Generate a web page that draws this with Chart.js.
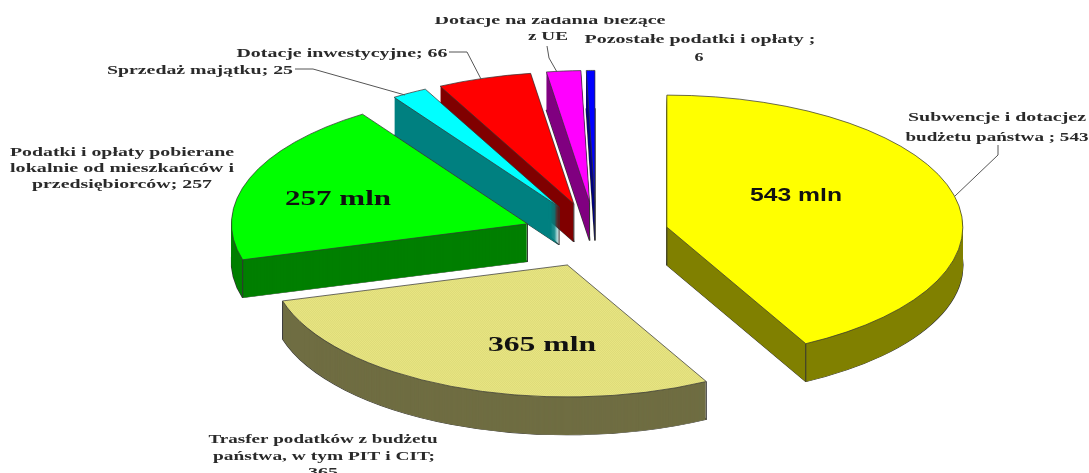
<!DOCTYPE html>
<html>
<head>
<meta charset="utf-8">
<script src="https://cdn.jsdelivr.net/npm/chart.js@4"></script>
<style>
  html, body { margin: 0; padding: 0; background: #fff; }
  canvas { display: block; filter: blur(0.4px); }
</style>
</head>
<body>
<canvas id="pie3d" width="1089" height="473"></canvas>
<script>
const categories = [
    'Subwencje i dotacje z budżetu państwa',
    'Trasfer podatków z budżetu państwa, w tym PIT i CIT',
    'Podatki i opłaty pobierane lokalnie od mieszkańców i przedsiębiorców',
    'Sprzedaż majątku',
    'Dotacje inwestycyjne',
    'Dotacje na zadania bieżące z UE',
    'Pozostałe podatki i opłaty'
];
const values = [543, 365, 257, 25, 66, 24, 6];
const topColors = ['#ffff00', '#e6e47e', '#00ff00', '#00ffff', '#ff0000', '#ff00ff', '#0000ff'];
const sideColors = ['#808000', '#6f6d42', '#007f00', '#008080', '#800000', '#800080', '#000080'];
const sliceTitles = ['543 mln', '365 mln', '257 mln'];

const SQUASH = 0.446;
const DEPTH = 38;
const EXPLODE = 73;

// dithered fill of the cream slice, tall cells because the face gets squashed
function dither(a, b) {
    const c = document.createElement('canvas');
    c.width = 2;
    c.height = 4;
    const g = c.getContext('2d');
    g.fillStyle = a;
    g.fillRect(0, 0, 2, 4);
    g.fillStyle = b;
    g.fillRect(0, 0, 1, 2);
    g.fillRect(1, 2, 1, 2);
    return g.createPattern(c, 'repeat');
}

const pie3d = {
    id: 'pie3d',
    beforeDatasetDraw(chart, args) {
        const ctx = chart.ctx;
        const arcs = args.meta.data;
        const mid = a => (a.startAngle + a.endAngle) / 2;
        // back slices first
        const order = arcs.map((a, i) => i).sort((p, q) => Math.sin(mid(arcs[p])) - Math.sin(mid(arcs[q])));

        order.forEach(i => {
            const arc = arcs[i];
            const base = arc.options;
            const dx = Math.cos(mid(arc)) * EXPLODE;
            const dy = Math.sin(mid(arc)) * EXPLODE;
            const place = drop => {
                ctx.translate(0, drop + arc.y);
                ctx.scale(1, SQUASH);
                ctx.translate(dx, dy - arc.y);
            };

            // lower outline, the wall covers its inner half
            const edge = Object.create(base);
            edge.backgroundColor = 'rgba(0,0,0,0)';
            edge.borderWidth = 1.5;
            edge.borderColor = '#333';
            arc.options = edge;
            ctx.save();
            place(DEPTH);
            arc.draw(ctx);
            ctx.restore();

            // wall: the slice stacked downwards
            const wall = Object.create(base);
            wall.backgroundColor = sideColors[i];
            wall.borderWidth = 0;
            arc.options = wall;
            for (let d = DEPTH; d > 0; d--) {
                ctx.save();
                place(d);
                arc.draw(ctx);
                ctx.restore();
            }

            // vertical corners, rim corners only on the front half
            const vx = arc.x + dx;
            const vy = arc.y + dy * SQUASH;
            const corners = [[0, 0]];
            [arc.startAngle, arc.endAngle].forEach(a => {
                if (Math.sin(a) > 0) corners.push([Math.cos(a), Math.sin(a)]);
            });
            ctx.strokeStyle = '#333';
            ctx.lineWidth = 1;
            ctx.beginPath();
            corners.forEach(c => {
                const x = vx + c[0] * arc.outerRadius;
                const y = vy + c[1] * arc.outerRadius * SQUASH;
                ctx.moveTo(x, y);
                ctx.lineTo(x, y + DEPTH);
            });
            ctx.stroke();

            // top face
            arc.options = base;
            ctx.save();
            place(0);
            arc.draw(ctx);
            ctx.restore();
        });
        return false;
    },
    afterDraw(chart) {
        const ctx = chart.ctx;
        const line = (pts) => {
            ctx.beginPath();
            pts.forEach((p, i) => i ? ctx.lineTo(p[0], p[1]) : ctx.moveTo(p[0], p[1]));
            ctx.stroke();
        };
        const text = (str, cx, y, width, font) => {
            ctx.save();
            ctx.font = font;
            ctx.textAlign = 'center';
            ctx.textBaseline = 'alphabetic';
            ctx.translate(cx, y);
            ctx.scale(width / ctx.measureText(str).width, 1);
            ctx.fillText(str, 0, 0);
            ctx.restore();
        };
        const small = 'bold 13px "Liberation Serif"';

        ctx.save();
        ctx.filter = 'blur(0.5px)';

        // leader lines
        ctx.strokeStyle = '#555';
        ctx.lineWidth = 1;
        line([[449, 52], [467, 52], [481, 79]]);
        line([[295, 69], [313, 69], [405, 95]]);
        line([[547, 46], [549, 58], [557, 72]]);
        line([[998, 145], [998, 155], [955, 196]]);

        // callouts
        ctx.fillStyle = '#2a2a2a';
        ctx.save();
        ctx.beginPath();
        ctx.rect(0, 17, 1089, 456);
        ctx.clip();
        text('Dotacje na zadania bieżące', 550, 24, 231, small);
        ctx.restore();
        text('z UE', 548, 40, 40, small);
        text('Pozostałe podatki i opłaty ;', 700, 43, 231, small);
        text('6', 699, 61, 9, small);
        text('Dotacje inwestycyjne; ' + values[4], 342, 57, 211, small);
        text('Sprzedaż majątku; ' + values[3], 200, 74, 186, small);
        text('Podatki i opłaty pobierane', 122, 156, 224, small);
        text('lokalnie od mieszkańców i', 122, 172, 224, small);
        text('przedsiębiorców; ' + values[2], 122, 188, 180, small);
        text('Subwencje i dotacjez', 997, 121, 178, small);
        text('budżetu państwa ; ' + values[0], 997, 141, 183, small);
        text('Trasfer podatków z budżetu', 323, 443, 229, small);
        text('państwa, w tym PIT i CIT;', 324, 460, 222, small);
        text(String(values[1]), 323, 476, 30, small);

        // values on the slices
        ctx.fillStyle = '#111';
        text(sliceTitles[0], 796, 201, 92, 'bold 19px "Liberation Sans"');
        text(sliceTitles[1], 542, 351, 108, 'bold 21px "Liberation Serif"');
        text(sliceTitles[2], 338, 205, 106, 'bold 21px "Liberation Serif"');
        ctx.restore();
    }
};

topColors[1] = dither('#f7f48c', '#cfcd70');

new Chart(document.getElementById('pie3d').getContext('2d'), {
    type: 'pie',
    data: {
        labels: categories,
        datasets: [{
            data: values,
            backgroundColor: topColors,
            borderColor: '#333',
            borderWidth: 1
        }]
    },
    options: {
        responsive: false,
        animation: false,
        devicePixelRatio: 1,
        radius: 296,
        layout: { padding: { left: 103, bottom: 3 } },
        plugins: {
            legend: { display: false },
            tooltip: { enabled: false }
        }
    },
    plugins: [pie3d]
});
</script>
</body>
</html>
